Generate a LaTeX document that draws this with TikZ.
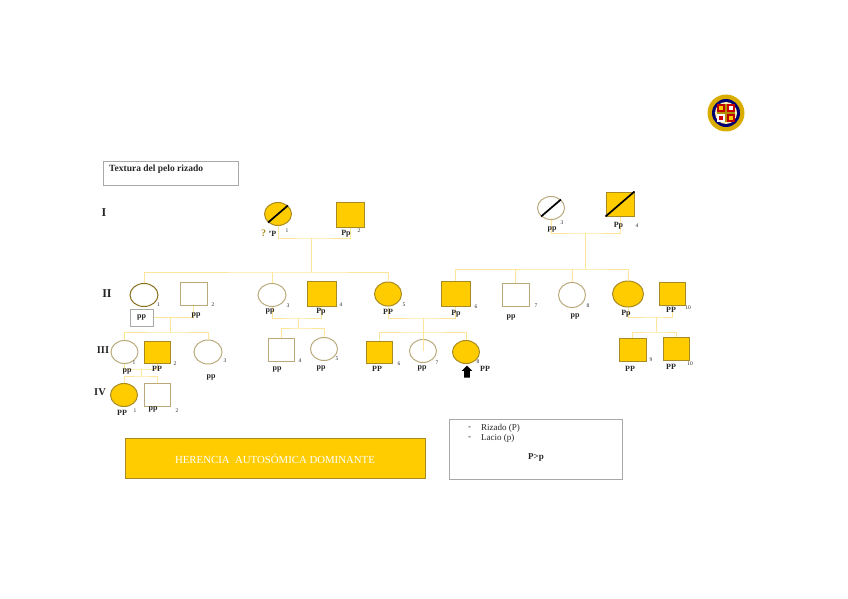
\documentclass[tikz,border=0pt]{standalone}
\usepackage{fontspec}
\setmainfont{Liberation Serif}
\usetikzlibrary{shapes.geometric,shapes.arrows}
\definecolor{gold}{HTML}{FFCC00}
\definecolor{edgegold}{HTML}{A88A22}
\definecolor{edgetan}{HTML}{BBA97C}
\definecolor{linkgold}{HTML}{FFE59A}
\definecolor{boxgrey}{HTML}{A9A9A9}
\definecolor{inkgrey}{HTML}{262626}

\begin{document}
\begin{tikzpicture}[
  x=1pt, y=-1pt,
  affected/.style={draw=edgegold, fill=gold, line width=1pt, inner sep=0pt},
  healthy/.style={draw=edgetan, line width=1pt, inner sep=0pt},
  female/.style={ellipse, minimum width=27pt, minimum height=23pt},
  male/.style={rectangle, minimum width=27pt, minimum height=24pt},
  link/.style={draw=linkgold, line width=1pt},
  slash/.style={draw=black, line width=1.7pt},
  geno/.style={font=\fontsize{8}{9}\selectfont\bfseries, text=inkgrey, inner sep=0pt},
  num/.style={font=\fontsize{5.5}{6}\selectfont, text=inkgrey, inner sep=0pt},
  gen/.style={font=\fontsize{12}{13}\selectfont\bfseries, text=inkgrey, inner sep=0pt},
  legend/.style={draw=boxgrey, line width=1pt, inner sep=0pt},
  plain/.style={font=\fontsize{9}{10}\selectfont, text=inkgrey, inner sep=0pt, anchor=west}
]
\useasboundingbox (0,0) rectangle (848,599);

\coordinate (m1) at (311,238);
\coordinate (b1) at (311,272);
\coordinate (m2) at (585,233);
\coordinate (b2) at (585,269);
\coordinate (m3) at (170,317.5);
\coordinate (b3) at (170,332);
\coordinate (m4) at (298,318);
\coordinate (b4) at (298,328);
\coordinate (m5) at (423,318);
\coordinate (b5) at (423,332);
\coordinate (m6) at (656,317);
\coordinate (b6) at (656,332);
\coordinate (m7) at (141,369);
\coordinate (b7) at (141,376);

\node[affected, female] (i1) at (278,214) {};
\node[affected, male, minimum width=28pt, minimum height=25pt] (i2) at (350,214.5) {};
\node[healthy, female] (i3) at (551,208) {};
\node[affected, male, minimum width=28pt] (i4) at (620,204) {};

\node[healthy, female, draw=edgegold!80!black, minimum width=28pt] (ii1) at (144,295) {};
\node[healthy, male, minimum height=23pt] (ii2) at (193.5,293.5) {};
\node[healthy, female, minimum width=28pt] (ii3) at (272,295) {};
\node[affected, male, minimum width=29pt, minimum height=25pt] (ii4) at (321.5,293.5) {};
\node[affected, female, minimum height=24pt] (ii5) at (388,294) {};
\node[affected, male, minimum width=29pt, minimum height=25pt] (ii6) at (455.5,293.5) {};
\node[healthy, male, minimum height=23pt] (ii7) at (515.5,294.5) {};
\node[healthy, female, minimum height=25pt] (ii8) at (572,295) {};
\node[affected, female, minimum width=31pt, minimum height=26pt] (ii9) at (628,294) {};
\node[affected, male, minimum width=26pt, minimum height=23pt] (ii10) at (672,293.5) {};
\node[draw=boxgrey, line width=1pt, minimum width=23pt, minimum height=17pt, inner sep=0pt, geno] (ii1g) at (141.5,317.5) {pp};

\node[healthy, female] (iii1) at (124.5,352) {};
\node[affected, male, minimum width=26pt, minimum height=22pt] (iii2) at (157,352) {};
\node[healthy, female, minimum width=28pt, minimum height=24pt] (iii3) at (208,352) {};
\node[healthy, male, minimum width=26pt, minimum height=23pt] (iii4) at (281,349.5) {};
\node[healthy, female] (iii5) at (324,349) {};
\node[affected, male, minimum width=26pt, minimum height=22pt] (iii6) at (379,352) {};
\node[healthy, female] (iii7) at (423,351) {};
\node[affected, female] (iii8) at (466,352) {};
\node[affected, male, minimum height=23pt] (iii9) at (632.5,349.5) {};
\node[affected, male, minimum width=26pt, minimum height=23pt] (iii10) at (676,348.5) {};

\node[affected, female] (iv1) at (124,395) {};
\node[healthy, male, minimum width=26pt, minimum height=23pt] (iv2) at (157,394.5) {};

\draw[slash] (i1.south west) -- (i1.north east);
\draw[slash] (i3.south west) -- (i3.north east);
\draw[slash] (i4.south west) -- (i4.north east);

\draw[link] (i1.south) |- (m1) -| (i2.south);
\draw[link] (m1) -- (b1);
\draw[link] (ii1.north) |- (b1) -| (ii5.north);
\draw[link] (ii3.north) -- (ii3.north |- b1);
\draw[link] (i3.south) |- (m2) -| (i4.south);
\draw[link] (m2) -- (b2);
\draw[link] (ii6.north) |- (b2) -| (ii9.north);
\draw[link] (ii7.north) -- (ii7.north |- b2);
\draw[link] (ii8.north) -- (ii8.north |- b2);
\draw[link] (ii1g.east) -| (ii2.south);
\draw[link] (m3) -- (b3);
\draw[link] (iii1.north) |- (b3) -| (iii3.north);
\draw[link] (ii3.south) |- (m4) -| (ii4.south);
\draw[link] (m4) -- (b4);
\draw[link] (iii4.north) |- (b4) -| (iii5.north);
\draw[link] (ii5.south) |- (m5) -| (ii6.south);
\draw[link] (m5) -- (b5);
\draw[link] (iii6.north) |- (b5) -| (iii8.north);
\draw[link] (b5) -- (iii7.center);
\draw[link] (ii9.south) |- (m6) -| (ii10.south);
\draw[link] (m6) -- (b6);
\draw[link] (iii9.north) |- (b6) -| (iii10.north);
\draw[link] (iii1.south) |- (m7) -| (iii2.south);
\draw[link] (m7) -- (b7);
\draw[link] (iv1.north) |- (b7) -| (iv2.north);

\node[gen] (geni) at (104,213) {I};
\node[gen] (genii) at (107,293.5) {II};
\node[gen, font=\fontsize{10.5}{11}\selectfont\bfseries] (geniii) at (103,350) {III};
\node[gen, font=\fontsize{10.5}{11}\selectfont\bfseries] (geniv) at (100,392.5) {IV};

\node[geno, text=edgegold, font=\fontsize{10}{11}\selectfont\bfseries] (i1q) at (263.5,233.5) {?};
\node[geno] (i1g) at (272.5,233.5) {'P};
\node[num] (i1n) at (287,231) {1};
\node[geno] (i2g) at (346,233.5) {Pp};
\node[num] (i2n) at (359,231) {2};
\node[geno] (i3g) at (552,229.5) {pp};
\node[num] (i3n) at (562,223) {3};
\node[geno] (i4g) at (618.5,226) {Pp};
\node[num] (i4n) at (637,226) {4};

\node[num] (ii1n) at (158.5,305) {1};
\node[geno] (ii2g) at (196,315) {pp};
\node[num] (ii2n) at (213,305) {2};
\node[geno] (ii3g) at (270,311.5) {pp};
\node[num] (ii3n) at (288,306) {3};
\node[geno] (ii4g) at (321,312) {Pp};
\node[num] (ii4n) at (341,305) {4};
\node[geno] (ii5g) at (388,311.5) {PP};
\node[num] (ii5n) at (404,305) {5};
\node[geno] (ii6g) at (456,313.5) {Pp};
\node[num] (ii6n) at (476,307) {6};
\node[geno] (ii7g) at (511,317) {pp};
\node[num] (ii7n) at (536,306) {7};
\node[geno] (ii8g) at (575,316) {pp};
\node[num] (ii8n) at (588,306) {8};
\node[geno] (ii9g) at (626,314) {Pp};
\node[geno] (ii10g) at (671,310) {PP};
\node[num] (ii10n) at (688,308) {10};

\node[geno] (iii1g) at (127,371) {pp};
\node[num] (iii1n) at (134,363) {1};
\node[geno] (iii2g) at (157,369) {PP};
\node[num] (iii2n) at (175,364) {2};
\node[geno] (iii3g) at (211,377) {pp};
\node[num] (iii3n) at (225,361) {3};
\node[geno] (iii4g) at (277,369) {pp};
\node[num] (iii4n) at (300,361) {4};
\node[geno] (iii5g) at (321,368) {pp};
\node[num] (iii5n) at (337,359) {5};
\node[geno] (iii6g) at (377,369) {PP};
\node[num] (iii6n) at (399,364) {6};
\node[geno] (iii7g) at (422,368) {pp};
\node[num] (iii7n) at (437,363) {7};
\node[geno] (iii8g) at (485,369) {PP};
\node[num] (iii8n) at (478,362) {8};
\node[geno] (iii9g) at (630,369) {PP};
\node[num] (iii9n) at (651,360) {9};
\node[geno] (iii10g) at (671,367) {PP};
\node[num] (iii10n) at (690,364) {10};

\node[geno] (iv1g) at (122,413) {PP};
\node[num] (iv1n) at (135,411) {1};
\node[geno] (iv2g) at (153,409) {pp};
\node[num] (iv2n) at (177,411) {2};

\node[single arrow, fill=black, inner sep=2.7pt, minimum height=12pt, single arrow head extend=2.5pt, single arrow head indent=0pt, shape border rotate=90] (proband) at (467,373) {};

\node[legend, minimum width=135pt, minimum height=24pt] (title) at (170.5,173) {};
\node[geno, anchor=west, font=\fontsize{9.5}{10}\selectfont\bfseries] (titletext) at (109,169) {Textura del pelo rizado};

\node[legend, draw=edgegold, fill=gold, minimum width=300pt, minimum height=40pt, text=white, font=\fontsize{10.8}{12}\selectfont] (mode) at (275,458.5) {HERENCIA\ \ AUTOSÓMICA DOMINANTE};

\node[legend, minimum width=173pt, minimum height=60pt] (key) at (535.5,449) {};
\node[plain] (dash1) at (468,428) {-};
\node[plain] (curly) at (481,428) {Rizado (P)};
\node[plain] (dash2) at (468,438) {-};
\node[plain] (straight) at (481,438) {Lacio (p)};
\node[geno, font=\fontsize{9}{10}\selectfont\bfseries] (order) at (536,458) {P>p};

\fill[gold!85!black] (726,113) circle (18.5pt);
\fill[blue!45!black] (726,113) circle (14pt);
\fill[white!70!gold] (726,113) circle (11pt);
\fill[red!75!black] (717,104) rectangle (725,112);
\fill[gold] (719,106) rectangle (723,110);
\fill[red!80!black] (727,104) rectangle (735,112);
\fill[white] (729,106) rectangle (733,110);
\fill[white] (717,114) rectangle (725,122);
\fill[red!80!black] (719,116) rectangle (723,120);
\fill[red!75!black] (727,114) rectangle (735,122);
\fill[gold] (729,116) rectangle (733,120);
\fill[gold!70!black] (725,104) rectangle (727,122);
\fill[gold!70!black] (717,112) rectangle (735,114);
\end{tikzpicture}
\end{document}
